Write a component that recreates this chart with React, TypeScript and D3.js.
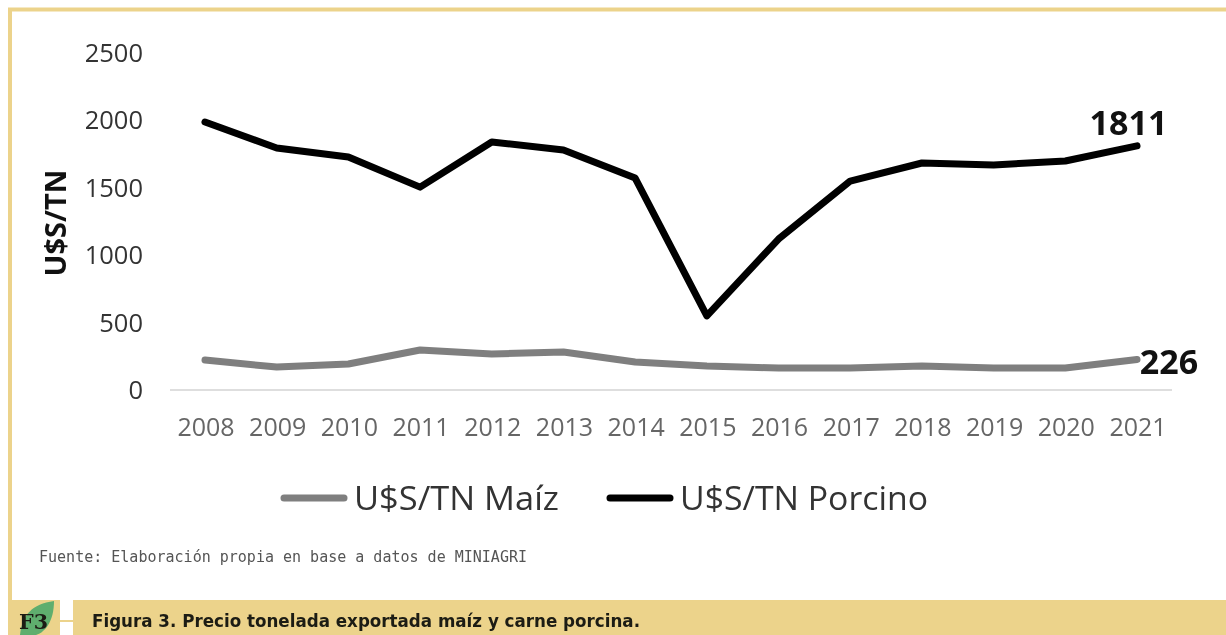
import React from "react";
import * as d3 from "d3";

const years = ["2008","2009","2010","2011","2012","2013","2014","2015","2016","2017","2018","2019","2020","2021"];
const porcino = [1988,1795,1728,1505,1840,1780,1572,550,1120,1550,1684,1669,1699,1811];
const maiz = [222,170,193,297,267,282,208,178,163,163,178,163,163,226];
const yTicks = [0,500,1000,1500,2000,2500];
const GOLD = "#ecd38b";
const SANS = "'Open Sans', 'Noto Sans', sans-serif";
const FOOT = "'DejaVu Sans Mono', monospace";

export default function App() {
  const x = d3.scalePoint<string>().domain(years).range([205, 1137]);
  const y = d3.scaleLinear().domain([0, 2500]).range([390, 53]);
  const line = d3.line<number>().x((_, i) => x(years[i]) as number).y(d => y(d));
  return (
    <svg width={1226} height={635} style={{ position: "absolute", left: 0, top: 0, background: "#fff", filter: "blur(0.6px)" }}>
      <rect x={10} y={9.5} width={1220} height={640} fill="none" stroke={GOLD} strokeWidth={4} />
      <rect x={8} y={600} width={52} height={35} fill={GOLD} />
      <rect x={60} y={620} width={13} height={2} fill={GOLD} />
      <rect x={73} y={600} width={1153} height={35} fill={GOLD} />
      <path d="M20,635 C22,615 32,604 54,601 C54,620 46,632 36,635 Z" fill="#5fae6e" />
      <text x={19} y={629} fontFamily="'DejaVu Serif', serif" fontWeight={700} fontSize={20} textLength={29} lengthAdjust="spacingAndGlyphs" fill="#1c1c14">F3</text>
      <text x={92} y={627} fontFamily="'DejaVu Sans', sans-serif" fontWeight={700} fontSize={17} textLength={548} lengthAdjust="spacingAndGlyphs" fill="#1c1c14">Figura 3. Precio tonelada exportada maíz y carne porcina.</text>
      <text x={39} y={562} fontFamily={FOOT} fontSize={15.5} textLength={488} lengthAdjust="spacingAndGlyphs" fill="#555">Fuente: Elaboración propia en base a datos de MINIAGRI</text>

      <line x1={170} x2={1172} y1={390} y2={390} stroke="#dedede" strokeWidth={2} />
      {yTicks.map(t => (
        <text key={t} x={143} y={y(t) + 9} textAnchor="end" fontFamily={SANS} fontSize={25.5} fill="#333">{t}</text>
      ))}
      {years.map(yr => (
        <text key={yr} x={x(yr) as number + 1} y={436} textAnchor="middle" fontFamily={SANS} fontSize={25} fill="#666">{yr}</text>
      ))}
      <text transform="translate(66,223) rotate(-90)" textAnchor="middle" fontFamily={SANS} fontWeight={700} fontSize={29} fill="#111">U$S/TN</text>

      <path d={line(maiz) as string} fill="none" stroke="#7f7f7f" strokeWidth={7} strokeLinecap="round" strokeLinejoin="round" />
      <path d={line(porcino) as string} fill="none" stroke="#000" strokeWidth={7} strokeLinecap="round" strokeLinejoin="round" />
      <text x={1128.5} y={135} textAnchor="middle" fontFamily={SANS} fontWeight={700} fontSize={34} fill="#111">{porcino[13]}</text>
      <text x={1169} y={374} textAnchor="middle" fontFamily={SANS} fontWeight={700} fontSize={34} fill="#111">{maiz[13]}</text>

      <line x1={284} x2={344} y1={498} y2={498} stroke="#7f7f7f" strokeWidth={7} strokeLinecap="round" />
      <text x={354} y={510} fontFamily={SANS} fontSize={33} textLength={205} lengthAdjust="spacingAndGlyphs" fill="#333">U$S/TN Maíz</text>
      <line x1={610} x2={670} y1={498} y2={498} stroke="#000" strokeWidth={7} strokeLinecap="round" />
      <text x={680} y={510} fontFamily={SANS} fontSize={33} textLength={248} lengthAdjust="spacingAndGlyphs" fill="#333">U$S/TN Porcino</text>
    </svg>
  );
}
